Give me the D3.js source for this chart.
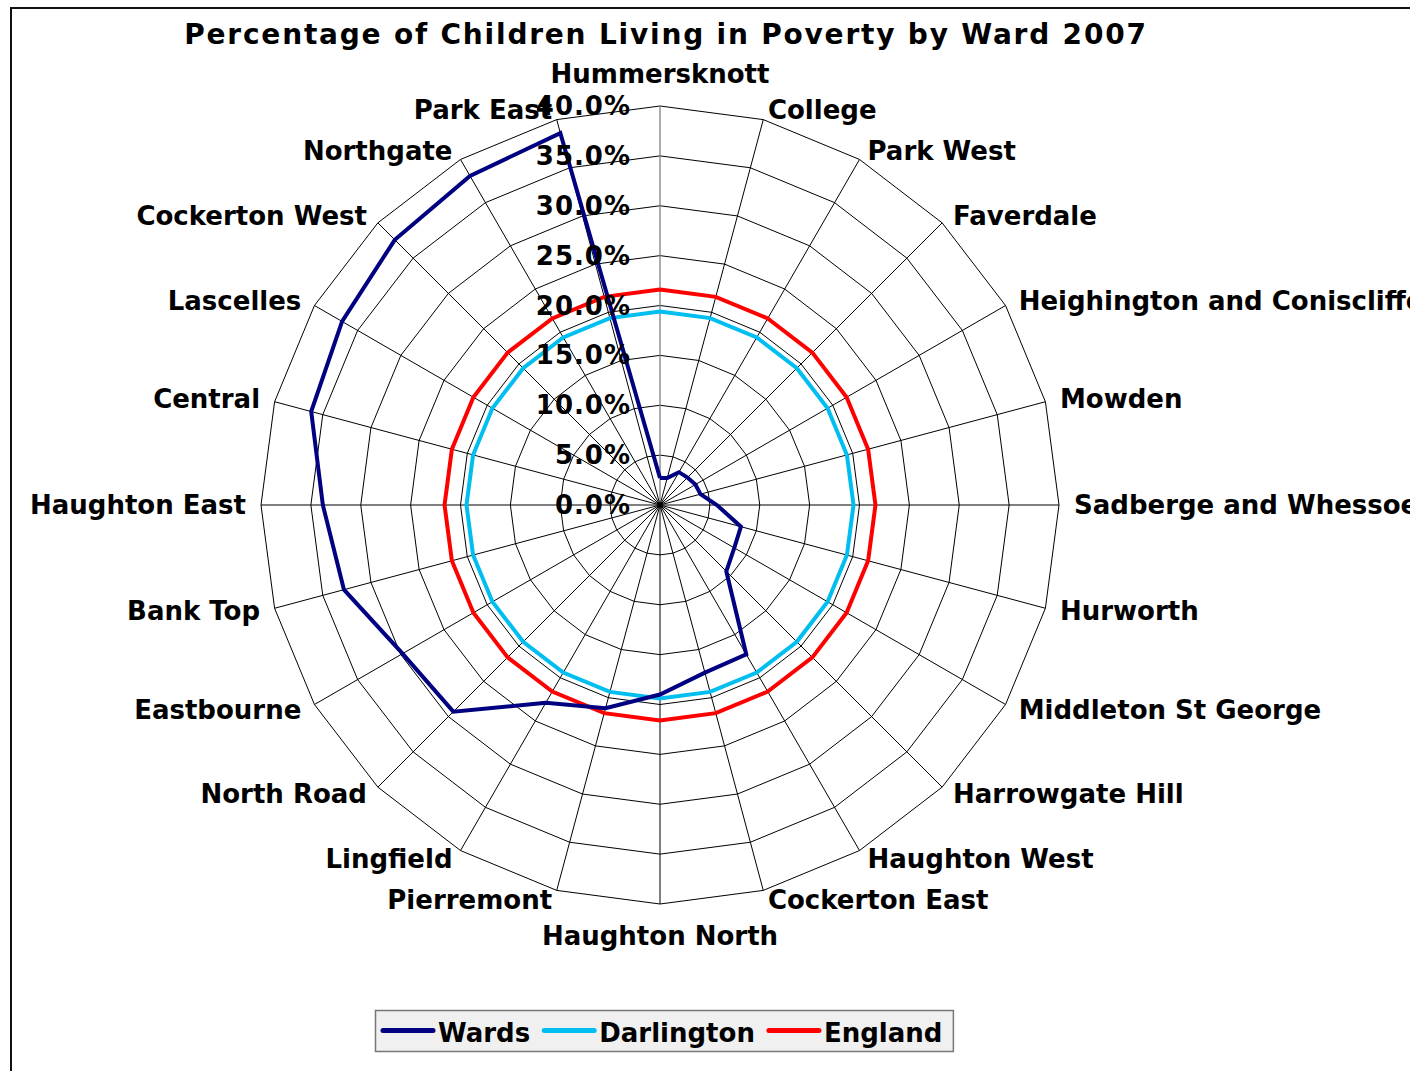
<!DOCTYPE html>
<html>
<head>
<meta charset="utf-8">
<script src="https://cdn.jsdelivr.net/npm/d3@7"></script>
<style>
  html, body { margin: 0; padding: 0; background: #fff; overflow: hidden; }
  svg { display: block; }
  text { font-family: "DejaVu Sans", Verdana, sans-serif; font-weight: bold; fill: #000; }
</style>
</head>
<body>
<div id="chart"></div>
<script>
// ---- Data ----
const categories = [
  "Hummersknott", "College", "Park West", "Faverdale", "Heighington and Coniscliffe",
  "Mowden", "Sadberge and Whessoe", "Hurworth", "Middleton St George", "Harrowgate Hill",
  "Haughton West", "Cockerton East", "Haughton North", "Pierremont", "Lingfield",
  "North Road", "Eastbourne", "Bank Top", "Haughton East", "Central", "Lascelles",
  "Cockerton West", "Northgate", "Park East"
];
const wards = [2.7, 2.8, 3.8, 3.9, 4.1, 4.2, 5.7, 8.4, 8.6, 9.4, 17.3, 17.4,
               19.0, 21.1, 22.9, 29.3, 29.8, 32.8, 33.8, 36.2, 36.8, 37.6, 38.1, 38.6];
const darlington = [19.4, 19.4, 19.4, 19.4, 19.4, 19.4, 19.4, 19.4, 19.4, 19.4, 19.4, 19.4,
                    19.4, 19.4, 19.4, 19.4, 19.4, 19.4, 19.4, 19.4, 19.4, 19.4, 19.4, 19.4];
const england = [21.6, 21.6, 21.6, 21.6, 21.6, 21.6, 21.6, 21.6, 21.6, 21.6, 21.6, 21.6,
                 21.6, 21.6, 21.6, 21.6, 21.6, 21.6, 21.6, 21.6, 21.6, 21.6, 21.6, 21.6];
const tickValues = [0, 5, 10, 15, 20, 25, 30, 35, 40];
const seriesNames = ["Wards", "Darlington", "England"];
const seriesColors = ["#000080", "#00BFF0", "#FF0000"];
const title = "Percentage of Children Living in Poverty by Ward 2007";

// ---- Layout ----
const W = 1410, H = 1071;
const cx = 660, cy = 505, R = 399;

const svg = d3.select("#chart").append("svg").attr("width", W).attr("height", H);

// chart area border (left & top visible)
svg.append("path").attr("d", `M11,${H + 5} L11,8 L${W + 5},8`)
  .attr("fill", "none").attr("stroke", "#111").attr("stroke-width", 2);

// title
svg.append("text").attr("x", 666).attr("y", 44).attr("text-anchor", "middle")
  .style("font-size", "28px").style("letter-spacing", "1.8px").text(title);

const rScale = d3.scaleLinear().domain([0, 40]).range([0, R]);
const angle = d3.scaleLinear().domain([0, categories.length]).range([0, 2 * Math.PI]);

const pt = (i, v) => {
  const a = angle(i), r = rScale(v);
  return [cx + r * Math.sin(a), cy - r * Math.cos(a)];
};

const g = svg.append("g");

// grid polygons
const ringLine = d3.line();
tickValues.filter(t => t > 0).forEach(t => {
  const pts = categories.map((c, i) => pt(i, t));
  pts.push(pts[0]);
  g.append("path").attr("d", ringLine(pts)).attr("fill", "none")
    .attr("stroke", "#000").attr("stroke-width", 1);
});

// spokes
categories.forEach((c, i) => {
  const [x, y] = pt(i, 40);
  g.append("line").attr("x1", cx).attr("y1", cy).attr("x2", x).attr("y2", y)
    .attr("stroke", i === 0 ? "#808080" : "#000").attr("stroke-width", i === 0 ? 1.3 : 1);
});

// series
const radial = d3.line().x(d => d[0]).y(d => d[1]);
const seriesData = [wards, darlington, england];
[2, 1, 0].forEach(k => {
  const pts = seriesData[k].map((v, i) => pt(i, v));
  pts.push(pts[0]);
  g.append("path").attr("d", radial(pts)).attr("fill", "none")
    .attr("stroke", seriesColors[k]).attr("stroke-width", 4)
    .attr("stroke-linejoin", "miter");
});

// value axis labels
tickValues.forEach(t => {
  g.append("text").attr("x", cx - 29).attr("y", cy - rScale(t)).attr("dy", "0.35em")
    .attr("text-anchor", "end").style("font-size", "26px").style("letter-spacing", "1px")
    .text(t.toFixed(1) + "%");
});

// category labels
categories.forEach((c, i) => {
  const a = angle(i);
  const s = Math.sin(a), co = Math.cos(a);
  let x = cx + (R + 14) * s;
  let y = cy - (R + 10) * co;
  let anchor = "middle";
  if (Math.abs(s) < 1e-6) {
    y += co > 0 ? -22 : 22;
  } else if (s > 0) { anchor = "start"; x += 1; }
  else { anchor = "end"; x -= 1; }
  g.append("text").attr("x", x).attr("y", y).attr("dy", "0.35em")
    .attr("text-anchor", anchor).style("font-size", "26px").text(c);
});

// legend
const lg = svg.append("g");
const box = lg.append("rect").attr("x", 375.5).attr("y", 1010.5).attr("height", 41)
  .attr("fill", "#f0f0f0").attr("stroke", "#777").attr("stroke-width", 1.5);
let lx = 383;
const gap = 14;
seriesNames.forEach((n, k) => {
  lg.append("line").attr("x1", lx).attr("x2", lx + 50).attr("y1", 1030.5).attr("y2", 1030.5)
    .attr("stroke", seriesColors[k]).attr("stroke-width", 5).attr("stroke-linecap", "round");
  const t = lg.append("text").attr("x", lx + 55).attr("y", 1041.5)
    .style("font-size", "26px").text(n);
  lx += 55 + t.node().getComputedTextLength() + gap;
});
box.attr("width", lx - gap + 11 - 375.5);
</script>
</body>
</html>
